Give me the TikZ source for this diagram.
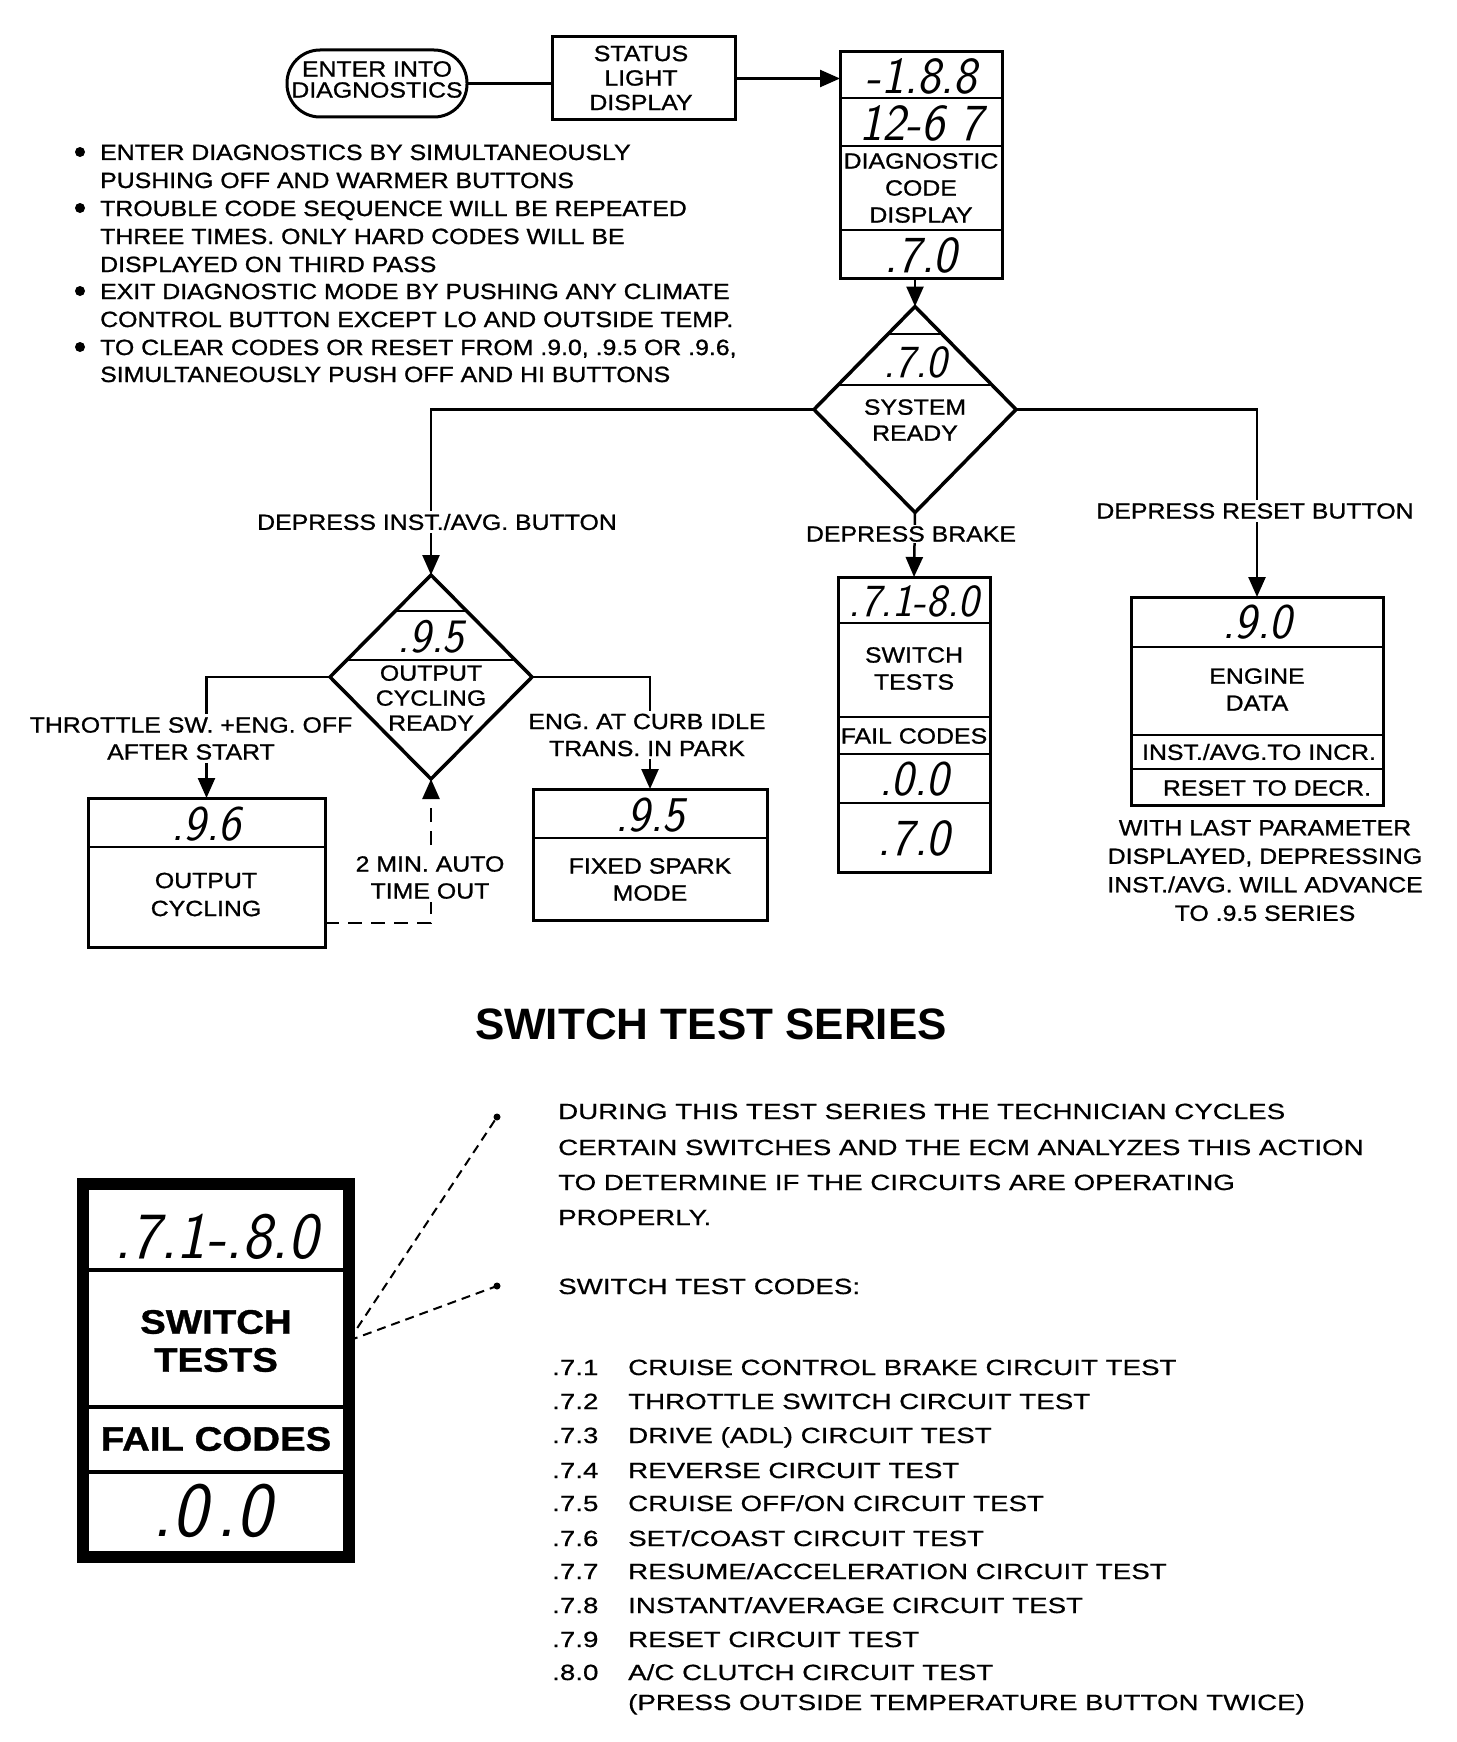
\documentclass[tikz,border=0pt]{standalone}
\usepackage{fontspec}
\setmainfont{Liberation Sans}
\newfontfamily\bodyf{Liberation Sans}[FakeStretch=1.13,FakeBold=1]
\newfontfamily\widef{Liberation Sans}[FakeStretch=1.26,FakeBold=0.6]
\newfontfamily\segf{lmsans17-oblique.otf}[FakeStretch=0.95]
\usetikzlibrary{arrows.meta,shapes.geometric,calc}
\begin{document}
\begin{tikzpicture}[x=1pt,y=-1pt,
  conn/.style={line width=2.5pt},
  arr/.style={conn,-{Triangle[length=20pt,width=17pt]}},
  frm/.style={draw,line width=3pt,inner sep=0pt,outer sep=0pt,rectangle},
  dia/.style={draw,diamond,line width=3.5pt,inner sep=0pt,outer sep=0pt,minimum width=202pt,minimum height=206pt},
  txt/.style={font=\bodyf\fontsize{22}{27}\selectfont,inner sep=0pt,align=center},
  wtxt/.style={txt,fill=white,inner sep=3pt},
  seg/.style={font=\segf\fontsize{#1}{#1}\selectfont,inner sep=0pt},
  tl/.style={font=\widef\fontsize{22}{27}\selectfont,inner sep=0pt,anchor=base west},
  bl/.style={font=\bodyf\fontsize{22}{27}\selectfont,inner sep=0pt,anchor=base west},
  divl/.style={line width=2.5pt}
]
\useasboundingbox[fill=white] (0,0) rectangle (1456,1742);

% ---------- top row ----------
\node[frm,rounded corners=33pt,minimum width=180pt,minimum height=67pt] (enter) at (377,83.5) {};
\node[txt,font=\bodyf\fontsize{22}{21}\selectfont] (entert) at (377,79.5) {ENTER INTO\\DIAGNOSTICS};
\node[frm,minimum width=183pt,minimum height=83pt] (status) at (643.5,78.5) {};
\node[txt,font=\bodyf\fontsize{22}{24.5}\selectfont] (statust) at (641,78) {STATUS\\LIGHT\\DISPLAY};
\draw[conn] (enter.east) -- (enter.east -| status.west);

\node[frm,minimum width=162pt,minimum height=226pt] (diag) at (921,165) {};
\draw[divl] (diag.west |- 0,98) -- (diag.east |- 0,98);
\draw[divl] (diag.west |- 0,146) -- (diag.east |- 0,146);
\draw[divl] (diag.west |- 0,230) -- (diag.east |- 0,230);
\node[seg=52] (dg1) at (921,76) {-1.8.8};
\node[seg=52] (dg2) at (921,123) {12-6 7};
\node[txt] (dg3) at (921,188) {DIAGNOSTIC\\CODE\\DISPLAY};
\node[seg=52] (dg4) at (921,255) {.7.0};
\draw[arr] (status.east) -- (status.east -| diag.west);

% ---------- bullets ----------
\foreach \yy in {152,208,291,347} {\fill (80,\yy) circle (5pt);}
\node[bl] (b1) at (100,160) {ENTER DIAGNOSTICS BY SIMULTANEOUSLY};
\node[bl] (b2) at (100,188) {PUSHING OFF AND WARMER BUTTONS};
\node[bl] (b3) at (100,216) {TROUBLE CODE SEQUENCE WILL BE REPEATED};
\node[bl] (b4) at (100,244) {THREE TIMES. ONLY HARD CODES WILL BE};
\node[bl] (b5) at (100,272) {DISPLAYED ON THIRD PASS};
\node[bl] (b6) at (100,299) {EXIT DIAGNOSTIC MODE BY PUSHING ANY CLIMATE};
\node[bl] (b7) at (100,327) {CONTROL BUTTON EXCEPT LO AND OUTSIDE TEMP.};
\node[bl] (b8) at (100,355) {TO CLEAR CODES OR RESET FROM .9.0, .9.5 OR .9.6,};
\node[bl] (b9) at (100,382) {SIMULTANEOUSLY PUSH OFF AND HI BUTTONS};

% ---------- system ready ----------
\node[dia] (sr) at (915,409.5) {};
\draw[divl] (888,334) -- (942,334);
\draw[divl] (838,385) -- (992,385);
\node[seg=46] (srd) at (915,362) {.7.0};
\node[txt,font=\bodyf\fontsize{22}{26}\selectfont] (srt) at (915,420) {SYSTEM\\READY};
\draw[arr] (diag.south -| sr.north) -- (sr.north);

% ---------- boxes ----------
\node[frm,minimum width=152pt,minimum height=295pt] (sw) at (914,724.5) {};
\foreach \yy in {623,717,754,803} {\draw[divl] (sw.west |- 0,\yy) -- (sw.east |- 0,\yy);}
\node[seg=46] (sw1) at (914,601) {.7.1-8.0};
\node[txt] (sw2) at (914,668.5) {SWITCH\\TESTS};
\node[txt] (sw3) at (914,736) {FAIL CODES};
\node[seg=50] (sw4) at (914,779) {.0.0};
\node[seg=52] (sw5) at (914,838) {.7.0};

\node[frm,minimum width=252pt,minimum height=208pt] (eng) at (1257,701) {};
\foreach \yy in {647,735,769} {\draw[divl] (eng.west |- 0,\yy) -- (eng.east |- 0,\yy);}
\node[seg=50] (e1) at (1257,622) {.9.0};
\node[txt] (e2) at (1257,689.5) {ENGINE\\DATA};
\node[txt] (e3) at (1259,752) {INST./AVG.TO INCR.};
\node[txt] (e4) at (1267,788) {RESET TO DECR.};
\node[txt,font=\bodyf\fontsize{22}{28.5}\selectfont] (enote) at (1265,870.5) {WITH LAST PARAMETER\\DISPLAYED, DEPRESSING\\INST./AVG. WILL ADVANCE\\TO .9.5 SERIES};

\node[dia,minimum height=204pt] (d2) at (431,677) {};
\draw[divl] (395,611) -- (467,611);
\draw[divl] (347,660) -- (515,660);
\node[seg=48] (d2a) at (431,637) {.9.5};
\node[txt,font=\bodyf\fontsize{22}{25}\selectfont] (d2b) at (431,698) {OUTPUT\\CYCLING\\READY};

\node[frm,minimum width=237pt,minimum height=149pt] (oc) at (206.5,872.5) {};
\draw[divl] (oc.west |- 0,847) -- (oc.east |- 0,847);
\node[seg=50] (oc1) at (206,824) {.9.6};
\node[txt,font=\bodyf\fontsize{22}{28}\selectfont] (oc2) at (206,894.5) {OUTPUT\\CYCLING};

\node[frm,minimum width=234pt,minimum height=131pt] (fs) at (650,854.5) {};
\draw[divl] (fs.west |- 0,838) -- (fs.east |- 0,838);
\node[seg=50] (fs1) at (650,815) {.9.5};
\node[txt] (fs2) at (650,879.5) {FIXED SPARK\\MODE};

% ---------- connectors ----------
\draw[arr] (sr.west) -| (d2.north);
\node[wtxt] (l1) at (437,522) {DEPRESS INST./AVG. BUTTON};
\draw[arr] (sr.south) -- (sw.north);
\node[wtxt,inner sep=1pt] (l2) at (911,534) {DEPRESS BRAKE};
\draw[arr] (sr.east) -| (eng.north);
\node[wtxt] (l3) at (1255,511) {DEPRESS RESET BUTTON};

\draw[arr] (d2.west) -| (oc.north);
\node[wtxt] (l4) at (191,738.5) {THROTTLE SW. +ENG. OFF\\AFTER START};
\draw[arr] (d2.east) -| (fs.north);
\node[wtxt] (l5) at (647,735) {ENG. AT CURB IDLE\\TRANS. IN PARK};

\coordinate (to1) at (431,923);
\draw[arr,dash pattern=on 14pt off 9pt] (oc.east |- to1) -- (to1) -- (d2.south);
\node[wtxt] (l6) at (430,877.5) {2 MIN. AUTO\\TIME OUT};

% ---------- switch test series ----------
\node[font=\bfseries\fontsize{44}{44}\selectfont,inner sep=0pt] (title) at (711,1024) {SWITCH TEST SERIES};

\node[draw,line width=12pt,minimum width=266pt,minimum height=373pt,inner sep=0pt,outer sep=0pt] (bb) at (216,1370.5) {};
\foreach \yy in {1270,1407,1472} {\draw[line width=4pt] (89,\yy) -- (343,\yy);}
\node[seg=66] (bb1) at (216,1237) {.7.1-.8.0};
\node[txt,font=\bodyf\bfseries\fontsize{34}{38}\selectfont] (bb2) at (216,1341) {SWITCH\\TESTS};
\node[txt,font=\bodyf\bfseries\fontsize{34}{38}\selectfont] (bb3) at (216,1439) {FAIL CODES};
\node[seg=78] (bb4) at (212,1511) {.0\hspace{10pt}.0};

\coordinate (p1) at (497,1117);
\coordinate (p2) at (497,1286);
\draw[line width=2pt,dash pattern=on 9pt off 6pt] ([yshift=30pt]bb.east) -- (p1);
\draw[line width=2pt,dash pattern=on 9pt off 6pt] ([yshift=30pt]bb.east) -- (p2);
\fill (p1) circle (3.5pt);
\fill (p2) circle (3.5pt);

\node[tl] (t1) at (558,1119) {DURING THIS TEST SERIES THE TECHNICIAN CYCLES};
\node[tl] (t2) at (558,1155) {CERTAIN SWITCHES AND THE ECM ANALYZES THIS ACTION};
\node[tl] (t3) at (558,1190) {TO DETERMINE IF THE CIRCUITS ARE OPERATING};
\node[tl] (t4) at (558,1225) {PROPERLY.};
\node[tl] (t5) at (558,1294) {SWITCH TEST CODES:};

\node[tl] (c1) at (552,1375) {.7.1};  \node[tl] (s1) at (628,1375) {CRUISE CONTROL BRAKE CIRCUIT TEST};
\node[tl] (c2) at (552,1409) {.7.2};  \node[tl] (s2) at (628,1409) {THROTTLE SWITCH CIRCUIT TEST};
\node[tl] (c3) at (552,1443) {.7.3};  \node[tl] (s3) at (628,1443) {DRIVE (ADL) CIRCUIT TEST};
\node[tl] (c4) at (552,1478) {.7.4};  \node[tl] (s4) at (628,1478) {REVERSE CIRCUIT TEST};
\node[tl] (c5) at (552,1511) {.7.5};  \node[tl] (s5) at (628,1511) {CRUISE OFF/ON CIRCUIT TEST};
\node[tl] (c6) at (552,1546) {.7.6};  \node[tl] (s6) at (628,1546) {SET/COAST CIRCUIT TEST};
\node[tl] (c7) at (552,1579) {.7.7};  \node[tl] (s7) at (628,1579) {RESUME/ACCELERATION CIRCUIT TEST};
\node[tl] (c8) at (552,1613) {.7.8};  \node[tl] (s8) at (628,1613) {INSTANT/AVERAGE CIRCUIT TEST};
\node[tl] (c9) at (552,1647) {.7.9};  \node[tl] (s9) at (628,1647) {RESET CIRCUIT TEST};
\node[tl] (c10) at (552,1680) {.8.0}; \node[tl] (s10) at (628,1680) {A/C CLUTCH CIRCUIT TEST};
\node[tl] (s11) at (628,1710) {(PRESS OUTSIDE TEMPERATURE BUTTON TWICE)};
\end{tikzpicture}
\end{document}
